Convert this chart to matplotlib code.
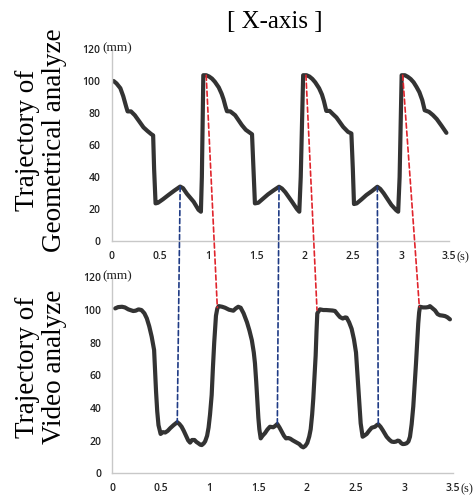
import matplotlib.pyplot as plt
from matplotlib.patches import ConnectionPatch

# trajectory from geometrical analyze (s, mm)
t_geo = [0.02, 0.05, 0.09, 0.12, 0.15, 0.165, 0.20, 0.24, 0.29, 0.33, 0.37, 0.41, 0.43, 0.44, 0.455,
         0.48, 0.53, 0.59, 0.65, 0.71, 0.74, 0.78, 0.85, 0.90, 0.925, 0.935, 0.95, 0.98, 1.01, 1.04,
         1.07, 1.11, 1.14, 1.16, 1.18, 1.195,
         1.23, 1.28, 1.35, 1.39, 1.42, 1.455, 1.47, 1.485, 1.52, 1.57, 1.62, 1.68, 1.735, 1.765,
         1.80, 1.87, 1.92, 1.945, 1.96, 1.985, 2.02, 2.05, 2.08, 2.11, 2.15, 2.18, 2.20, 2.225,
         2.26, 2.29, 2.33, 2.40, 2.45, 2.485, 2.50, 2.512, 2.54, 2.59, 2.64, 2.70, 2.754, 2.785,
         2.82, 2.90, 2.95, 2.97, 2.985, 3.006, 3.04, 3.07, 3.10, 3.13, 3.16, 3.19, 3.22, 3.245,
         3.29, 3.33, 3.37, 3.42, 3.47]
y_geo = [100, 98.5, 95.5, 90.5, 84, 81, 81, 78.6, 74.4, 71, 68.8, 66.8, 66, 45, 23.5,
         23.9, 26, 28.8, 31.5, 34, 33, 29.5, 24.5, 19.5, 18.3, 40, 103.6, 103.6, 102.8, 101.5,
         99.5, 96, 92, 88.5, 84, 81.1,
         81, 78.6, 72.4, 69.5, 68.2, 66.7, 45, 23.5, 23.9, 26.5, 29.1, 31.7, 33.9, 32.8,
         30.5, 24.5, 20, 18.3, 40, 103.6, 103.6, 102.8, 101.3, 99.2, 95.5, 91.5, 87.5, 81.3,
         81.3, 79.5, 77.2, 71.3, 68.2, 67.2, 45, 23.1, 23.5, 26, 28.7, 31.3, 33.9, 32.5,
         29.8, 22.5, 19.2, 18.3, 40, 103.6, 103.6, 102.6, 101.2, 99.2, 96.3, 93, 88, 81.7,
         80.7, 78.7, 76.2, 72, 67.6]

# trajectory from video analyze (s, mm)
t_vid = [0.03, 0.06, 0.10, 0.13, 0.165, 0.215, 0.24, 0.27, 0.30, 0.33, 0.355, 0.38, 0.405, 0.43,
         0.44, 0.45, 0.462, 0.475, 0.497, 0.52, 0.545, 0.57, 0.595, 0.63, 0.668, 0.69, 0.713,
         0.735, 0.758, 0.78, 0.80, 0.82, 0.845, 0.865, 0.88, 0.905, 0.92, 0.94, 0.955, 0.975,
         0.99, 1.005, 1.022, 1.035, 1.048, 1.066, 1.08, 1.095,
         1.13, 1.16, 1.20, 1.245, 1.27, 1.295, 1.32, 1.35, 1.385, 1.41, 1.435, 1.455, 1.467,
         1.48, 1.491, 1.502, 1.512, 1.526, 1.545, 1.57, 1.595, 1.621, 1.655, 1.675, 1.697, 1.72,
         1.742, 1.765, 1.786, 1.81, 1.83, 1.855, 1.878, 1.90, 1.923, 1.945, 1.964, 1.985, 2.005,
         2.025, 2.04, 2.055, 2.067, 2.08, 2.091, 2.10, 2.108, 2.135,
         2.17, 2.20, 2.238, 2.265, 2.29, 2.315, 2.341, 2.37, 2.395, 2.41, 2.435, 2.461, 2.485,
         2.506, 2.518, 2.529, 2.542, 2.554, 2.574, 2.595, 2.616, 2.64, 2.667, 2.701, 2.72, 2.735,
         2.758, 2.78, 2.80, 2.821, 2.85, 2.873, 2.895, 2.917, 2.935, 2.951, 2.97, 2.986, 3.007,
         3.027, 3.045, 3.061, 3.078, 3.095, 3.11, 3.123, 3.135, 3.146, 3.155, 3.164, 3.195,
         3.225, 3.25, 3.266, 3.29, 3.318, 3.345, 3.369, 3.395, 3.421, 3.445, 3.472]
y_vid = [101, 101.8, 102, 101.6, 100.4, 99.4, 99.6, 100.4, 100, 98, 94.9, 90, 83.7, 75.5,
         62, 50, 38, 29.5, 24.1, 25.2, 25, 26, 27.6, 29.5, 31.3, 30.2, 28.5,
         26, 23, 20.2, 18.8, 20.4, 20.4, 19.2, 18.6, 17.5, 17.3, 18.3, 19.6, 23,
         28, 36, 48, 65, 80, 96.5, 101, 102.4,
         102, 101.4, 100.2, 99.6, 101, 102, 101.4, 98, 92.5, 87.5, 81.5, 74, 67.4,
         56, 45, 34, 27, 21.4, 23, 24.6, 26.8, 28.5, 28.2, 29, 30.2, 28,
         25.5, 23, 21.4, 21.6, 21.2, 20.2, 19.4, 18.6, 17.9, 16.5, 15.9, 16.8, 18.6,
         22.5, 27, 36, 46, 60, 72, 87, 98, 100.4,
         100, 100, 99.8, 99.7, 99.4, 97.5, 95.7, 94.8, 95.5, 95.3, 92.5, 88.5, 82,
         74, 63, 52, 40, 30.6, 22.4, 23.2, 24.1, 26, 27.9, 28.5, 29.5, 30,
         28.5, 26.5, 24.5, 22.4, 20.5, 19.4, 19.2, 19.4, 20, 19.8, 18.5, 17.9, 18,
         18.4, 19.5, 22.4, 30, 41, 55, 67.4, 80, 91.8, 98.5, 102, 101.6,
         101.6, 101.8, 102.4, 101.2, 99.8, 97.5, 96.8, 96.6, 96.3, 95.6, 94.3]

# matching points (top -> bottom)
blue_top = [(0.71, 34), (1.735, 33.9), (2.754, 33.9)]
blue_bot = [(0.668, 31.3), (1.697, 30.2), (2.735, 30)]
red_top = [(0.98, 103.6), (2.014, 103.6), (3.017, 103.6)]
red_bot = [(1.08, 101.5), (2.105, 100), (3.157, 102)]

xticks = [0, 0.5, 1, 1.5, 2, 2.5, 3, 3.5]
xlabels = ['0', '0.5', '1', '1.5', '2', '2.5', '3', '3.5']
yticks = [0, 20, 40, 60, 80, 100, 120]
ylabels = ['0', '20', '40', '60', '80', '100', '120']

fig = plt.figure(figsize=(4.76, 4.98), dpi=100)
ax1 = fig.add_axes([0.2346, 0.5161, 0.7093, 0.3855])
ax2 = fig.add_axes([0.2359, 0.0496, 0.7151, 0.3934])

for ax, t, y in [(ax1, t_geo, y_geo), (ax2, t_vid, y_vid)]:
    ax.plot(t, y, color='#333333', lw=3, solid_joinstyle='round', solid_capstyle='round')
    ax.set_xlim(0, 3.5)
    ax.set_ylim(0, 120)
    ax.set_xticks(xticks)
    ax.set_xticklabels(xlabels)
    ax.set_yticks(yticks)
    ax.set_yticklabels(ylabels)
    ax.tick_params(length=0, labelsize=7.5, labelcolor='#222222')
    ax.tick_params(axis='x', pad=7)
    ax.tick_params(axis='y', pad=8)
    for lab in ax.get_xticklabels() + ax.get_yticklabels():
        lab.set_fontfamily('Open Sans')
        lab.set_fontweight('semibold')
    for s in ['top', 'right']:
        ax.spines[s].set_visible(False)
    for s in ['left', 'bottom']:
        ax.spines[s].set_color('#c8c8c8')
        ax.spines[s].set_linewidth(1)
    ax.patch.set_alpha(0)
    # units
    ax.annotate('(mm)', xy=(0, 120), xycoords='data', xytext=(-7, 0.5),
                textcoords='offset points', ha='left', va='center',
                fontsize=9.5, family='Liberation Serif', color='#222222',
                annotation_clip=False)
    ax.annotate('(s)', xy=(3.5, 0), xycoords='data', xytext=(5.5, -11.5),
                textcoords='offset points', ha='left', va='center',
                fontsize=9, family='Liberation Serif', color='#222222',
                annotation_clip=False)

for a, b in zip(blue_top, blue_bot):
    con = ConnectionPatch(xyA=a, coordsA=ax1.transData, xyB=b, coordsB=ax2.transData,
                          color='#1f3b85', lw=1.2, linestyle=(0, (3, 1.8)))
    fig.add_artist(con)
for a, b in zip(red_top, red_bot):
    con = ConnectionPatch(xyA=a, coordsA=ax1.transData, xyB=b, coordsB=ax2.transData,
                          color='#e0242c', lw=1.2, linestyle=(0, (3, 1.8)))
    fig.add_artist(con)

fig.text(0.577, 0.956, '[ X-axis ]', ha='center', va='center',
         fontsize=18, family='Liberation Serif')
fig.text(0.086, 0.719, 'Trajectory of\nGeometrical analyze', ha='center', va='center',
         rotation=90, fontsize=19.5, family='Liberation Serif', linespacing=1.15)
fig.text(0.086, 0.263, 'Trajectory of\nVideo analyze', ha='center', va='center',
         rotation=90, fontsize=19.5, family='Liberation Serif', linespacing=1.15)

fig.savefig('out.png', dpi=100)
